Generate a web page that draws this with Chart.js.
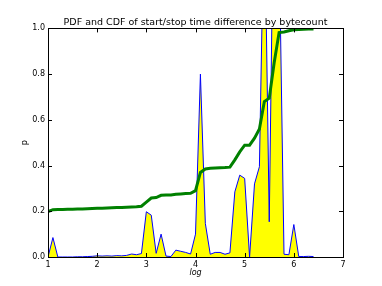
<!DOCTYPE html>
<html>
<head>
<meta charset="utf-8">
<script src="https://cdn.jsdelivr.net/npm/chart.js@4"></script>
<style>
  html, body { margin: 0; padding: 0; background: #fff; }
  #wrap { width: 382px; height: 286px; }
</style>
</head>
<body>
<div id="wrap"><canvas id="chart"></canvas></div>
<script>
// log bytecount bins
var xs = [1.0, 1.1, 1.2, 1.3, 1.4, 1.5, 1.6, 1.7, 1.8, 1.9,
          2.0, 2.1, 2.2, 2.3, 2.4, 2.5, 2.6, 2.7, 2.8, 2.9,
          3.0, 3.1, 3.2, 3.3, 3.4, 3.5, 3.6, 3.7, 3.8, 3.9,
          4.0, 4.1, 4.2, 4.3, 4.4, 4.5, 4.6, 4.7, 4.8, 4.9,
          5.0, 5.1, 5.2, 5.3, 5.4, 5.5, 5.6, 5.7, 5.8, 5.9,
          6.0, 6.1, 6.2, 6.3, 6.4]

var pdf = [0, 0.085, 0, 0, 0, 0, 0.001, 0.001, 0.002, 0.003,
           0.005, 0.004, 0.005, 0.004, 0.006, 0.005, 0.007, 0.013, 0.01, 0.015,
           0.198, 0.183, 0.016, 0.1, 0.004, 0.002, 0.03, 0.025, 0.02, 0.013,
           0.1, 0.8, 0.147, 0.012, 0.02, 0.02, 0.012, 0.018, 0.285, 0.358,
           0.344, 0, 0.32, 0.395, 1.6, 0.154, 1.8, 1.4, 0.012, 0.01,
           0.142, 0.002, 0.002, 0.003, 0.002]

var cdf = [0.198, 0.207, 0.208, 0.208, 0.209, 0.209, 0.21, 0.21, 0.211, 0.212,
           0.213, 0.213, 0.214, 0.215, 0.216, 0.217, 0.218, 0.219, 0.22, 0.222,
           0.24, 0.258, 0.26, 0.27, 0.271, 0.271, 0.274, 0.276, 0.278, 0.279,
           0.29, 0.37, 0.385, 0.388, 0.389, 0.39, 0.391, 0.393, 0.425, 0.46,
           0.489, 0.489, 0.52, 0.56, 0.68, 0.695, 0.85, 0.982, 0.984, 0.99,
           0.994, 0.995, 0.996, 0.997, 0.997]

var xTicks = [1, 2, 3, 4, 5, 6, 7]
var yTicks = [0, 0.2, 0.4, 0.6, 0.8, 1.0]

function pairs(ys) {
    return xs.map((x, i) => ({ x: x, y: ys[i] }))
}

//matplotlib style frame with inward ticks on all four sides
var frame = {
    id: 'frame',
    afterDatasetsDraw(chart) {
        let ctx = chart.ctx
        let a = chart.chartArea
        let sx = chart.scales.x
        let sy = chart.scales.y
        ctx.save()
        ctx.strokeStyle = '#000'
        ctx.lineWidth = 1
        ctx.beginPath()
        xTicks.forEach((t) => {
            let px = Math.round(sx.getPixelForValue(t)) + 0.5
            ctx.moveTo(px, a.bottom); ctx.lineTo(px, a.bottom - 4)
            ctx.moveTo(px, a.top); ctx.lineTo(px, a.top + 4)
        })
        yTicks.forEach((t) => {
            let py = Math.round(sy.getPixelForValue(t)) + 0.5
            ctx.moveTo(a.left, py); ctx.lineTo(a.left + 4, py)
            ctx.moveTo(a.right, py); ctx.lineTo(a.right - 4, py)
        })
        ctx.stroke()
        ctx.strokeRect(Math.round(a.left) + 0.5, Math.round(a.top) + 0.5,
            Math.round(a.right - a.left), Math.round(a.bottom - a.top))
        ctx.restore()
    }
}

Chart.defaults.color = '#000'
Chart.defaults.font.family = '"DejaVu Sans", sans-serif'

new Chart(document.getElementById('chart'), {
    type: 'line',
    data: {
        datasets: [
            {
                label: 'CDF',
                data: pairs(cdf),
                borderColor: '#008000',
                borderWidth: 3,
                pointRadius: 0,
                fill: false,
                order: 0
            },
            {
                label: 'PDF',
                data: pairs(pdf),
                borderColor: '#0000ff',
                backgroundColor: '#ffff00',
                borderWidth: 1,
                pointRadius: 0,
                fill: 'origin',
                order: 1
            }
        ]
    },
    options: {
        responsive: true,
        maintainAspectRatio: false,
        animation: false,
        layout: { padding: { left: 0, right: 39, top: 0, bottom: 0 } },
        plugins: {
            legend: { display: false },
            tooltip: { enabled: false },
            title: {
                display: true,
                text: 'PDF and CDF of start/stop time difference by bytecount',
                fullSize: false,
                font: { size: 9.5, weight: 'normal' },
                padding: { top: 17, bottom: 0 }
            }
        },
        scales: {
            x: {
                type: 'linear',
                min: 1,
                max: 7,
                grid: { display: false, drawTicks: false },
                border: { display: false },
                afterBuildTicks: (s) => { s.ticks = xTicks.map((v) => ({ value: v })) },
                ticks: { padding: 3, font: { size: 8 }, maxRotation: 0, callback: (v) => String(v) },
                title: { display: true, text: 'log', font: { size: 8, style: 'italic' }, padding: { top: 0, bottom: 8 } },
                afterFit: (s) => { s.height = 29 }
            },
            y: {
                min: 0,
                max: 1,
                grid: { display: false, drawTicks: false },
                border: { display: false },
                afterBuildTicks: (s) => { s.ticks = yTicks.map((v) => ({ value: v })) },
                ticks: { padding: 3, font: { size: 8 }, callback: (v) => v.toFixed(1) },
                title: { display: true, text: 'p', font: { size: 8 }, padding: { top: 20, bottom: 0 } },
                afterFit: (s) => { s.width = 48 }
            }
        }
    },
    plugins: [frame]
})
</script>
</body>
</html>
